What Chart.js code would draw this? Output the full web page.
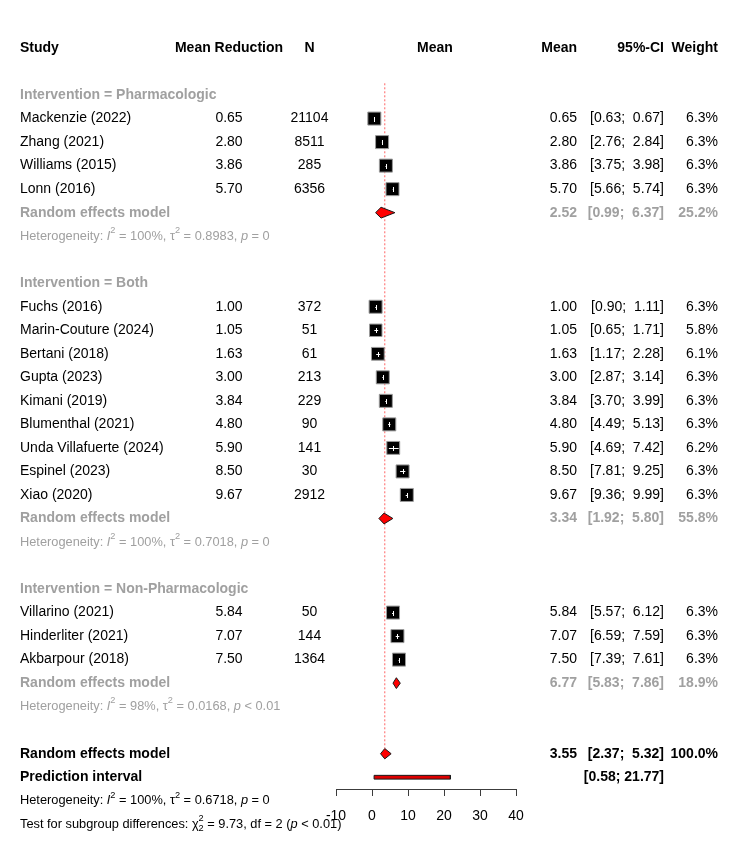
<!DOCTYPE html>
<html lang="en">
<head>
<meta charset="UTF-8">
<title>Forest plot - mean reduction</title>
<script src="https://cdn.jsdelivr.net/npm/chart.js"></script>
<style>
  body { margin: 0; background: #fff; }
  canvas { display: block; }
</style>
</head>
<body>
<canvas id="forest" width="750" height="868"></canvas>
<script>
// ---- data ----
const groups = ['Pharmacologic', 'Both', 'Non-Pharmacologic'];
const studyGroup = [0, 0, 0, 0, 1, 1, 1, 1, 1, 1, 1, 1, 1, 2, 2, 2];
const studies = ['Mackenzie (2022)', 'Zhang (2021)', 'Williams (2015)', 'Lonn (2016)',
    'Fuchs (2016)', 'Marin-Couture (2024)', 'Bertani (2018)', 'Gupta (2023)', 'Kimani (2019)',
    'Blumenthal (2021)', 'Unda Villafuerte (2024)', 'Espinel (2023)', 'Xiao (2020)',
    'Villarino (2021)', 'Hinderliter (2021)', 'Akbarpour (2018)'];
const meanRed = [0.65, 2.80, 3.86, 5.70, 1.00, 1.05, 1.63, 3.00, 3.84, 4.80, 5.90, 8.50, 9.67, 5.84, 7.07, 7.50];
const sampleN = [21104, 8511, 285, 6356, 372, 51, 61, 213, 229, 90, 141, 30, 2912, 50, 144, 1364];
const ciLow = [0.63, 2.76, 3.75, 5.66, 0.90, 0.65, 1.17, 2.87, 3.70, 4.49, 4.69, 7.81, 9.36, 5.57, 6.59, 7.39];
const ciHigh = [0.67, 2.84, 3.98, 5.74, 1.11, 1.71, 2.28, 3.14, 3.99, 5.13, 7.42, 9.25, 9.99, 6.12, 7.59, 7.61];
const weights = [6.3, 6.3, 6.3, 6.3, 6.3, 5.8, 6.1, 6.3, 6.3, 6.3, 6.2, 6.3, 6.3, 6.3, 6.3, 6.3];

// subgroup random effects models
const subMean = [2.52, 3.34, 6.77];
const subLow = [0.99, 1.92, 5.83];
const subHigh = [6.37, 5.80, 7.86];
const subWeight = [25.2, 55.8, 18.9];
const subI2 = ['100%', '100%', '98%'];
const subTau2 = ['0.8983', '0.7018', '0.0168'];
const subP = ['= 0', '= 0', '< 0.01'];

// overall model
const overallMean = 3.55, overallLow = 2.37, overallHigh = 5.32, overallWeight = 100.0;
const predLow = 0.58, predHigh = 21.77;
const overallI2 = '100%', overallTau2 = '0.6718', overallP = '= 0';
const testChi2 = '9.73', testDf = 2, testP = '< 0.01';

const xTicks = [-10, 0, 10, 20, 30, 40];

// ---- row layout ----
const rows = [];
const studyRow = [];
const subRow = [];
let r = 2;
groups.forEach((g, gi) => {
    rows.push({ kind: 'group', row: r++, gi });
    studies.forEach((s, i) => {
        if (studyGroup[i] === gi) { studyRow[i] = r; rows.push({ kind: 'study', row: r++, i }); }
    });
    subRow[gi] = r;
    rows.push({ kind: 'subRandom', row: r++, gi });
    rows.push({ kind: 'subHet', row: r++, gi });
    r++;
});
const overallRow = r, predRow = r + 1, hetRow = r + 2, testRow = r + 3;

const FONT = '"Liberation Sans", Arial, sans-serif';
const GRAY = '#a0a0a0';
const fmt = v => v.toFixed(2);
const fmtCI = (lo, hi) => `[${fmt(lo)}; ${fmt(hi).padStart(5, ' ')}]`;

// diamond polygon in data units
function diamond(mean, lo, hi, row, h) {
    return [{ x: lo, y: row }, { x: mean, y: row - h }, { x: hi, y: row }, { x: mean, y: row + h }, { x: lo, y: row }];
}
function polyDataset(points, fillColor) {
    return {
        data: points, showLine: true, fill: 'shape', pointRadius: 0,
        borderColor: '#1a1a1a', borderWidth: 1, backgroundColor: fillColor
    };
}

const diamondSets = groups.map((g, gi) => polyDataset(diamond(subMean[gi], subLow[gi], subHigh[gi], subRow[gi], 0.23), '#ff0000'));
diamondSets.push(polyDataset(diamond(overallMean, overallLow, overallHigh, overallRow, 0.22), '#ff0000'));
const predSet = polyDataset([
    { x: predLow, y: predRow - 0.08 }, { x: predHigh, y: predRow - 0.08 },
    { x: predHigh, y: predRow + 0.08 }, { x: predLow, y: predRow + 0.08 }, { x: predLow, y: predRow - 0.08 }
], '#dd0000');

// ---- text helpers ----
function text(ctx, s, x, y, opt = {}) {
    ctx.font = `${opt.bold ? 'bold ' : ''}${opt.size || 14}px ${FONT}`;
    ctx.fillStyle = opt.color || '#000';
    ctx.textAlign = opt.align || 'left';
    ctx.textBaseline = 'middle';
    ctx.fillText(s, x, y);
}
function rich(ctx, parts, x, y, size, color) {
    let cx = x;
    ctx.fillStyle = color;
    ctx.textAlign = 'left';
    ctx.textBaseline = 'middle';
    parts.forEach(p => {
        const small = p.sup || p.sub;
        const sz = small ? size * 0.72 : size;
        ctx.font = `${p.it ? 'italic ' : ''}${sz}px ${FONT}`;
        const dy = p.sup ? -size * 0.45 : p.sub ? size * 0.35 : 0;
        ctx.fillText(p.t, cx, y + dy);
        if (!p.keep) cx += ctx.measureText(p.t).width;
    });
}
function hetParts(i2, tau2, p) {
    return [{ t: 'Heterogeneity: ' }, { t: 'I', it: true }, { t: '2', sup: true }, { t: ` = ${i2}, ` },
        { t: 'τ' }, { t: '2', sup: true }, { t: ` = ${tau2}, ` }, { t: 'p', it: true }, { t: ` ${p}` }];
}

const col = { study: 20, meanRed: 229, n: 309.5, plotHead: 435, mean: 577, ci: 664, weight: 718 };

const innerMarks = {
    id: 'innerMarks',
    afterDatasetsDraw(chart) {
        const { ctx, scales: { x, y } } = chart;
        ctx.save();
        ctx.strokeStyle = '#ffffff';
        ctx.lineWidth = 1;
        studies.forEach((s, i) => {
            const py = Math.round(y.getPixelForValue(studyRow[i])) + 0.5;
            const px = Math.round(x.getPixelForValue(meanRed[i])) + 0.5;
            ctx.beginPath();
            ctx.moveTo(x.getPixelForValue(ciLow[i]), py);
            ctx.lineTo(x.getPixelForValue(ciHigh[i]), py);
            ctx.moveTo(px, py - 2.5);
            ctx.lineTo(px, py + 2.5);
            ctx.stroke();
        });
        ctx.restore();
    }
};

const labels = {
    id: 'labels',
    afterDraw(chart) {
        const { ctx, scales: { y } } = chart;
        const Y = row => y.getPixelForValue(row);
        ctx.save();
        // header
        const hy = Y(0);
        text(ctx, 'Study', col.study, hy, { bold: true });
        text(ctx, 'Mean Reduction', col.meanRed, hy, { bold: true, align: 'center' });
        text(ctx, 'N', col.n, hy, { bold: true, align: 'center' });
        text(ctx, 'Mean', col.plotHead, hy, { bold: true, align: 'center' });
        text(ctx, 'Mean', col.mean, hy, { bold: true, align: 'right' });
        text(ctx, '95%-CI', col.ci, hy, { bold: true, align: 'right' });
        text(ctx, 'Weight', col.weight, hy, { bold: true, align: 'right' });

        rows.forEach(rw => {
            const py = Y(rw.row);
            if (rw.kind === 'group') {
                text(ctx, `Intervention = ${groups[rw.gi]}`, col.study, py, { bold: true, color: GRAY });
            } else if (rw.kind === 'study') {
                const i = rw.i;
                text(ctx, studies[i], col.study, py);
                text(ctx, fmt(meanRed[i]), col.meanRed, py, { align: 'center' });
                text(ctx, String(sampleN[i]), col.n, py, { align: 'center' });
                text(ctx, fmt(meanRed[i]), col.mean, py, { align: 'right' });
                text(ctx, fmtCI(ciLow[i], ciHigh[i]), col.ci, py, { align: 'right' });
                text(ctx, weights[i].toFixed(1) + '%', col.weight, py, { align: 'right' });
            } else if (rw.kind === 'subRandom') {
                const g = rw.gi, o = { bold: true, color: GRAY, align: 'right' };
                text(ctx, 'Random effects model', col.study, py, { bold: true, color: GRAY });
                text(ctx, fmt(subMean[g]), col.mean, py, o);
                text(ctx, fmtCI(subLow[g], subHigh[g]), col.ci, py, o);
                text(ctx, subWeight[g].toFixed(1) + '%', col.weight, py, o);
            } else if (rw.kind === 'subHet') {
                rich(ctx, hetParts(subI2[rw.gi], subTau2[rw.gi], subP[rw.gi]), col.study, py, 12.8, GRAY);
            }
        });

        // overall
        let py = Y(overallRow);
        text(ctx, 'Random effects model', col.study, py, { bold: true });
        text(ctx, fmt(overallMean), col.mean, py, { bold: true, align: 'right' });
        text(ctx, fmtCI(overallLow, overallHigh), col.ci, py, { bold: true, align: 'right' });
        text(ctx, overallWeight.toFixed(1) + '%', col.weight, py, { bold: true, align: 'right' });
        py = Y(predRow);
        text(ctx, 'Prediction interval', col.study, py, { bold: true });
        text(ctx, fmtCI(predLow, predHigh), col.ci, py, { bold: true, align: 'right' });
        rich(ctx, hetParts(overallI2, overallTau2, overallP), col.study, Y(hetRow), 12.8, '#000');
        rich(ctx, [{ t: 'Test for subgroup differences: ' }, { t: 'χ' }, { t: '2', sup: true, keep: true },
            { t: '2', sub: true }, { t: ` = ${testChi2}, df = ${testDf} (` }, { t: 'p', it: true }, { t: ` ${testP})` }],
            col.study, Y(testRow), 12.8, '#000');
        ctx.restore();
    }
};

new Chart(document.getElementById('forest'), {
    type: 'scatter',
    data: {
        datasets: [
            ...diamondSets,
            predSet,
            {
                data: studies.map((s, i) => ({ x: meanRed[i], y: studyRow[i] })),
                pointStyle: 'rect',
                pointRadius: c => 9.2 * Math.sqrt(weights[c.dataIndex] / 6.3),
                backgroundColor: '#000',
                borderColor: '#9a9a9a',
                borderWidth: 1
            },
            {
                data: [{ x: overallMean, y: 1.5 }, { x: overallMean, y: overallRow - 0.22 }],
                showLine: true, pointRadius: 0,
                borderColor: '#ff6464', borderWidth: 1, borderDash: [2, 2]
            }
        ]
    },
    options: {
        responsive: false,
        animation: false,
        layout: { padding: { left: 336, right: 234, top: 48, bottom: 0 } },
        plugins: { legend: { display: false }, tooltip: { enabled: false } },
        scales: {
            x: {
                type: 'linear', min: xTicks[0], max: xTicks[xTicks.length - 1],
                afterFit: s => { s.height = 79; },
                afterBuildTicks: s => { s.ticks = xTicks.map(v => ({ value: v })); },
                ticks: { autoSkip: false, maxRotation: 0, color: '#000', padding: 12, font: { family: FONT, size: 14 } },
                grid: { drawOnChartArea: false, tickLength: 7, color: '#3c3c3c' },
                border: { color: '#3c3c3c' }
            },
            y: { type: 'linear', reverse: true, min: 0, max: 31.5, display: false }
        }
    },
    plugins: [innerMarks, labels]
});
</script>
</body>
</html>
